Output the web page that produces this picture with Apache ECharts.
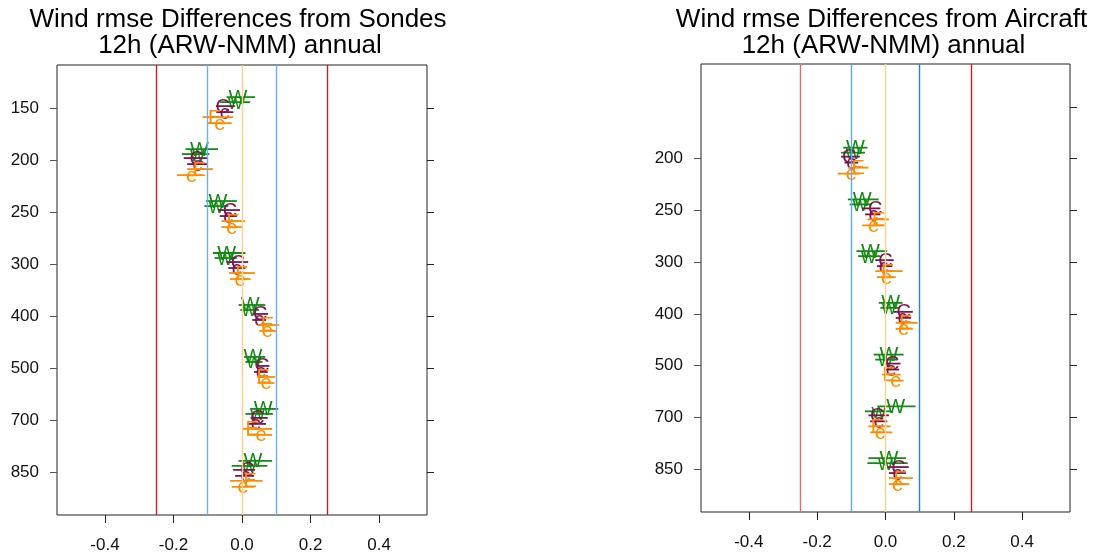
<!DOCTYPE html>
<html lang="en">
<head>
    <meta charset="UTF-8">
    <title>wind_rmse_diff</title>
    <style>
        body { margin: 0; background: #fff; }
        #main { width: 1102px; height: 554px; }
    </style>
</head>
<body>
    <div id="main"></div>
</body>
<script src="https://cdn.jsdelivr.net/npm/echarts@6/dist/echarts.min.js"></script>
<script>
    // pressure levels, top to bottom
    var levels = ['150', '200', '250', '300', '400', '500', '700', '850']
    var xTicks = [-0.4, -0.2, 0.0, 0.2, 0.4]
    var refLines = [-0.25, -0.1, 0, 0.1, 0.25]

    // each entry: [mean, low, high] per level
    var sondesW = [[-0.012, -0.045, 0.038], [-0.124, -0.165, -0.07], [-0.07, -0.105, -0.015], [-0.045, -0.085, 0.01], [0.024, -0.01, 0.068], [0.032, 0.006, 0.068], [0.062, 0.024, 0.106], [0.032, -0.01, 0.088]]
    var sondesw = [[-0.02, -0.065, 0.024], [-0.13, -0.175, -0.095], [-0.075, -0.11, -0.04], [-0.05, -0.08, -0.015], [0.02, -0.005, 0.05], [0.035, 0.01, 0.06], [0.045, 0.01, 0.09], [0.02, -0.03, 0.074]]
    var sondesC = [[-0.056, -0.076, -0.02], [-0.132, -0.17, -0.1], [-0.035, -0.07, -0.006], [-0.012, -0.045, 0.018], [0.053, 0.032, 0.076], [0.059, 0.04, 0.08], [0.045, 0.025, 0.075], [0.015, -0.026, 0.038]]
    var sondesc = [[-0.05, -0.075, -0.025], [-0.13, -0.16, -0.1], [-0.04, -0.065, -0.015], [-0.015, -0.04, 0.01], [0.05, 0.03, 0.07], [0.055, 0.035, 0.075], [0.04, 0.02, 0.07], [0.01, -0.02, 0.035]]
    var sondesE = [[-0.08, -0.115, -0.026], [-0.124, -0.16, -0.085], [-0.026, -0.06, 0.01], [0.0, -0.038, 0.038], [0.074, 0.047, 0.109], [0.062, 0.044, 0.097], [0.03, 0.003, 0.088], [0.024, -0.035, 0.06]]
    var sondese = [[-0.065, -0.1, -0.03], [-0.147, -0.19, -0.115], [-0.03, -0.06, 0.0], [-0.006, -0.035, 0.025], [0.074, 0.05, 0.1], [0.07, 0.045, 0.095], [0.056, 0.015, 0.088], [0.003, -0.03, 0.035]]

    var aircraftW = [null, [-0.088, -0.124, -0.053], [-0.068, -0.11, -0.02], [-0.044, -0.085, 0.005], [0.015, -0.02, 0.05], [0.01, -0.035, 0.053], [0.03, -0.024, 0.088], [0.01, -0.05, 0.06]]
    var aircraftw = [null, [-0.095, -0.13, -0.06], [-0.075, -0.105, -0.04], [-0.05, -0.08, -0.015], [0.01, -0.015, 0.04], [0.0, -0.03, 0.035], [-0.02, -0.06, 0.015], [0.0, -0.053, 0.065]]
    var aircraftC = [null, [-0.106, -0.13, -0.075], [-0.03, -0.068, -0.015], [0.0, -0.03, 0.024], [0.053, 0.024, 0.08], [0.02, 0.0, 0.044], [-0.024, -0.05, 0.01], [0.038, 0.006, 0.068]]
    var aircraftc = [null, [-0.1, -0.12, -0.08], [-0.035, -0.06, -0.015], [-0.005, -0.025, 0.02], [0.05, 0.03, 0.075], [0.015, 0.0, 0.04], [-0.02, -0.045, 0.005], [0.035, 0.01, 0.06]]
    var aircraftE = [null, [-0.08, -0.11, -0.05], [-0.02, -0.053, 0.01], [0.006, -0.03, 0.05], [0.06, 0.03, 0.094], [0.01, -0.01, 0.044], [-0.024, -0.05, 0.015], [0.044, 0.01, 0.08]]
    var aircrafte = [null, [-0.1, -0.14, -0.075], [-0.035, -0.068, -0.005], [0.003, -0.025, 0.03], [0.053, 0.03, 0.08], [0.03, 0.01, 0.053], [-0.015, -0.045, 0.02], [0.035, 0.01, 0.07]]

    var green = '#138a13', purple = '#7d1552', orange = '#ff8c00'
    // letter, colour, vertical shift (px)
    var marks = [
        {letter: 'W', color: green, shift: -11},
        {letter: 'w', color: green, shift: -6},
        {letter: 'C', color: purple, shift: -2},
        {letter: 'c', color: purple, shift: 4},
        {letter: 'E', color: orange, shift: 9},
        {letter: 'e', color: orange, shift: 15}
    ]
    var panels = [
        {title: 'Wind rmse Differences from Sondes', sets: [sondesW, sondesw, sondesC, sondesc, sondesE, sondese],
         left: 57, top: 65, width: 370, height: 450,
         lineColors: ['#d42020', '#6aaeff', '#ffcf90', '#6aaeff', '#b02a2a'], yLabels: [1, 2, 3, 4, 5, 6, 7, 8]},
        {title: 'Wind rmse Differences from Aircraft', sets: [aircraftW, aircraftw, aircraftC, aircraftc, aircraftE, aircrafte],
         left: 701, top: 64, width: 369, height: 448,
         lineColors: ['#d87070', '#5aa8ff', '#ffcf90', '#2a7ee8', '#d42020'], yLabels: [2, 3, 4, 5, 6, 7, 8]}
    ]

    var grids = [], xAxes = [], yAxes = [], series = [], graphics = []
    var font = 'Liberation Sans, Arial, sans-serif'

    panels.forEach(function (p, pi) {
        grids.push({left: p.left, top: p.top, width: p.width, height: p.height,
            show: true, borderColor: '#222', borderWidth: 1, backgroundColor: 'transparent'})
        xAxes.push({type: 'value', gridIndex: pi, min: -0.54, max: 0.54,
            splitLine: {show: false}, axisLine: {show: false, onZero: false},
            axisTick: {show: true, length: 8, customValues: xTicks, lineStyle: {color: '#222'}},
            axisLabel: {customValues: xTicks, margin: 22, fontSize: 17, color: '#111', fontFamily: font,
                formatter: function (v) { return v.toFixed(1) }}})
        var yBase = {type: 'value', gridIndex: pi, inverse: true, min: 0.17, max: 8.83,
            splitLine: {show: false}, axisLine: {show: false, onZero: false}}
        yAxes.push(Object.assign({}, yBase, {position: 'left',
            axisTick: {show: true, length: 7, customValues: p.yLabels, lineStyle: {color: '#555'}},
            axisLabel: {customValues: p.yLabels, margin: 18, fontSize: 17, color: '#111', fontFamily: font,
                formatter: function (v) { return levels[Math.round(v) - 1] }}}))
        yAxes.push(Object.assign({}, yBase, {position: 'right',
            axisTick: {show: true, length: 7, customValues: [1, 2, 3, 4, 5, 6, 7, 8], lineStyle: {color: '#222'}},
            axisLabel: {show: false}}))

        // reference lines
        series.push({type: 'custom', xAxisIndex: pi, yAxisIndex: pi * 2, data: [],
            renderItem: function () { return null },
            markLine: {silent: true, symbol: ['none', 'none'], label: {show: false},
                data: refLines.map(function (v, i) {
                    return {xAxis: v, lineStyle: {color: p.lineColors[i], width: 1.4, type: 'solid'}}
                })}})

        var unit = p.height / 8.66
        marks.forEach(function (m, mi) {
            var data = []
            p.sets[mi].forEach(function (d, li) {
                if (d) data.push([d[0], d[1], d[2], li + 1 + m.shift / unit])
            })
            series.push({type: 'custom', name: m.letter, xAxisIndex: pi, yAxisIndex: pi * 2, data: data,
                renderItem: function (params, api) {
                    var y = api.value(3)
                    var a = api.coord([api.value(1), y])
                    var b = api.coord([api.value(2), y])
                    var c = api.coord([api.value(0), y])
                    return {type: 'group', children: [
                        {type: 'line', shape: {x1: a[0], y1: a[1], x2: b[0], y2: b[1]},
                            style: {stroke: m.color, lineWidth: 1.8}},
                        {type: 'text', x: c[0], y: c[1] + 1,
                            style: {text: m.letter, fill: m.color, font: '20px ' + font,
                                textAlign: 'center', textVerticalAlign: 'middle'}}
                    ]}
                }})
        })

        var cx = p.left + p.width / 2
        graphics.push({type: 'text', x: cx - 4, y: 20, style: {text: p.title, font: '26px ' + font,
            fill: '#000', textAlign: 'center', textVerticalAlign: 'middle'}})
        graphics.push({type: 'text', x: cx - 2, y: 46, style: {text: '12h (ARW-NMM) annual', font: '26px ' + font,
            fill: '#000', textAlign: 'center', textVerticalAlign: 'middle'}})
    })

    var main = echarts.init(document.getElementById('main'))
    main.setOption({
        animation: false,
        grid: grids,
        xAxis: xAxes,
        yAxis: yAxes,
        series: series,
        graphic: graphics
    })
</script>
</html>
